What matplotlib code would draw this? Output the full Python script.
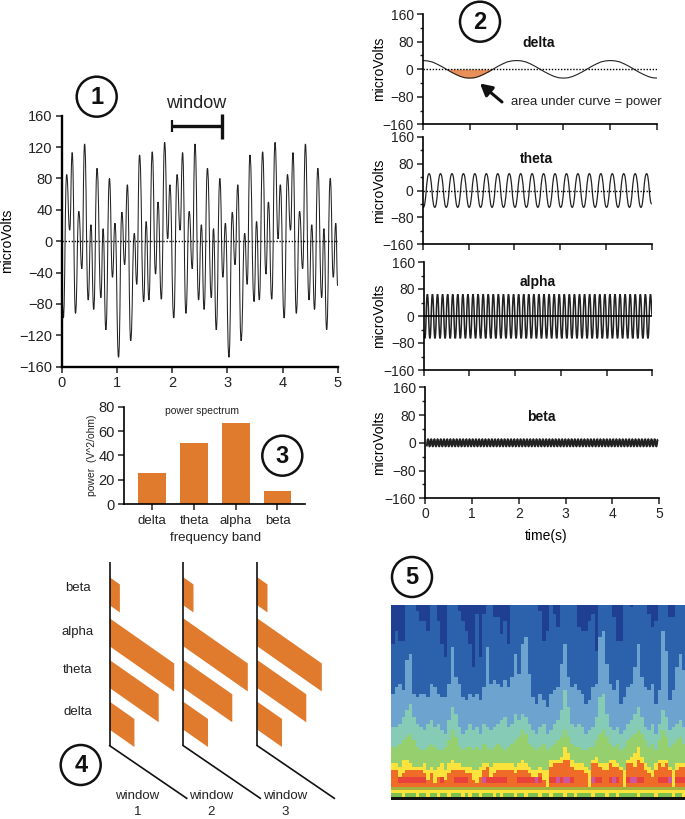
import numpy as np
import matplotlib
matplotlib.use("Agg")
import matplotlib.pyplot as plt
from matplotlib.colors import ListedColormap
from matplotlib.patches import Circle, PathPatch, Polygon
from matplotlib.path import Path

plt.rcParams["font.family"] = ["Liberation Sans", "DejaVu Sans"]
plt.rcParams["axes.unicode_minus"] = True

W, H = 685, 819
ORANGE = "#E07B2E"
DARK = "#222222"

# panel 1: turning points of the summed signal
eeg_t = [0.0, 0.03, 0.09, 0.145, 0.19, 0.25, 0.31, 0.365, 0.415, 0.48, 0.53, 0.58, 0.64, 0.71, 0.75, 0.80, 0.865, 0.92, 0.965,
         1.03, 1.09, 1.14, 1.19, 1.25, 1.315, 1.36, 1.41, 1.485, 1.53, 1.58, 1.64, 1.70, 1.745, 1.805, 1.865, 1.92, 1.96,
         2.03, 2.09, 2.145, 2.19, 2.25, 2.31, 2.365, 2.415, 2.48, 2.53, 2.58, 2.64, 2.71, 2.75, 2.80, 2.865, 2.92, 2.965,
         3.03, 3.09, 3.14, 3.19, 3.25, 3.315, 3.36, 3.41, 3.485, 3.53, 3.58, 3.64, 3.70, 3.745, 3.805, 3.865, 3.92, 3.96,
         4.03, 4.09, 4.145, 4.19, 4.25, 4.31, 4.365, 4.415, 4.48, 4.53, 4.58, 4.64, 4.71, 4.75, 4.80, 4.865, 4.92, 4.965, 5.0]
eeg_v = [-60, -98, 85, 14, 113, -92, 38, -35, 124, -75, 21, -87, 93, -72, 16, -113, 80, -46, 23,
         -148, 37, -30, 72, -127, 10, -55, 110, -77, 25, -75, 114, -42, 50, -74, 126, 3, 72,
         -98, 85, 14, 113, -92, 38, -35, 124, -75, 21, -87, 93, -72, 16, -113, 80, -46, 23,
         -148, 37, -30, 72, -127, 10, -55, 110, -77, 25, -75, 114, -42, 50, -74, 126, 3, 72,
         -98, 85, 14, 113, -92, 38, -35, 124, -75, 21, -87, 93, -72, 16, -113, 80, -46, 23, -57]

# panel 2: delta read every 0.1 s
delta_t = np.arange(51) / 10
delta_v = [25, 24, 21, 15, 8, 0, -8, -15, -21, -25, -26, -25, -21, -15, -8, 0, 8, 15, 21, 24,
           25, 24, 21, 15, 8, 0, -8, -15, -21, -25, -26, -25, -21, -15, -8, 0, 8, 15, 21, 24,
           25, 24, 21, 15, 8, 0, -8, -15, -21, -25, -26]
# the faster bands keep a flat amplitude, so only the turning points are listed
theta_v = [-45] + [-50, 50] * 20 + [-40]
alpha_v = [-50] + [-66, 64] * 45 + [0]
beta_v = [-10, 10] * 73
theta_span = (0.014, 4.889)
alpha_span = (0.025, 4.96)
beta_span = (0.03, 4.97)

# panel 3
bands = ["delta", "theta", "alpha", "beta"]
power = [25.5, 50.5, 66.5, 10.5]

# panel 5: row where each colour layer ends, one entry per time column
navy_end = [12, 8, 11, 11, 0, 0, 0, 2, 5, 5,
            8, 0, 0, 5, 12, 16, 0, 0, 0, 2,
            5, 8, 12, 19, 3, 16, 3, 0, 0, 4,
            4, 9, 5, 12, 0, 0, 0, 0, 0, 0,
            0, 0, 2, 11, 8, 0, 3, 7, 0, 0,
            0, 0, 0, 7, 8, 8, 5, 3, 14, 0,
            0, 0, 0, 4, 11, 11, 0, 0, 1, 0,
            0, 0, 0, 3, 7, 5, 0, 0, 0, 4,
            4, 0, 0, 0]
blue_end = [27, 25, 24, 26, 17, 15, 27, 28, 27, 27,
            28, 24, 25, 27, 28, 28, 24, 13, 22, 24,
            28, 29, 27, 28, 27, 29, 25, 13, 24, 23,
            24, 25, 23, 25, 22, 15, 21, 12, 10, 21,
            28, 30, 27, 29, 31, 27, 26, 25, 18, 12,
            22, 25, 24, 26, 27, 30, 29, 25, 24, 10,
            8, 18, 24, 26, 23, 30, 28, 25, 24, 19,
            12, 22, 25, 26, 24, 30, 26, 8, 14, 29,
            26, 19, 15, 20]
light_end = [37, 37, 36, 34, 32, 30, 34, 36, 37, 38,
             36, 35, 37, 36, 38, 39, 35, 31, 33, 37,
             39, 38, 36, 38, 37, 39, 36, 37, 38, 37,
             36, 35, 34, 37, 36, 33, 35, 33, 34, 36,
             38, 39, 37, 36, 39, 38, 36, 35, 32, 26,
             31, 36, 37, 36, 37, 39, 38, 37, 34, 28,
             27, 33, 37, 38, 37, 39, 38, 36, 35, 33,
             31, 34, 37, 38, 36, 39, 36, 32, 34, 38,
             37, 36, 35, 37]
teal_end = [43, 43, 42, 41, 40, 39, 41, 43, 44, 44,
            43, 42, 43, 44, 44, 43, 41, 38, 40, 43,
            44, 43, 43, 44, 43, 44, 42, 43, 44, 43,
            42, 43, 44, 43, 42, 41, 40, 38, 39, 42,
            43, 44, 43, 42, 44, 43, 42, 41, 40, 38,
            40, 42, 43, 43, 44, 44, 43, 43, 41, 39,
            38, 40, 42, 43, 42, 44, 43, 41, 40, 39,
            38, 39, 41, 43, 42, 44, 41, 38, 40, 43,
            42, 41, 40, 42]
green_end = [48, 48, 49, 47, 47, 48, 49, 49, 49, 48,
             50, 49, 50, 49, 48, 50, 48, 47, 48, 48,
             49, 49, 49, 50, 50, 49, 48, 48, 49, 48,
             48, 48, 48, 48, 48, 49, 48, 47, 48, 49,
             50, 50, 49, 50, 50, 47, 47, 47, 46, 43,
             45, 47, 48, 48, 48, 49, 50, 47, 46, 48,
             48, 48, 47, 47, 48, 49, 50, 47, 46, 45,
             43, 46, 48, 49, 50, 48, 47, 47, 47, 49,
             50, 48, 48, 48]
yellow_end = [50, 50, 52, 51, 50, 50, 50, 50, 50, 51,
              53, 51, 54, 52, 52, 53, 51, 50, 50, 50,
              50, 51, 51, 53, 54, 52, 50, 49, 52, 51,
              50, 50, 50, 50, 50, 51, 50, 50, 50, 51,
              52, 52, 51, 53, 56, 49, 48, 48, 48, 47,
              47, 49, 50, 50, 50, 51, 56, 48, 48, 49,
              50, 50, 48, 49, 49, 50, 56, 48, 48, 49,
              47, 48, 50, 51, 52, 50, 48, 49, 48, 50,
              56, 50, 49, 49]
red_cols = [2, 3, 4, 5, 6, 7, 8, 9, 14, 15, 18, 19, 20, 21, 26, 27, 28, 29, 30, 31, 32, 36, 37, 38, 39, 40, 41, 42,
            45, 46, 47, 48, 49, 50, 51, 57, 58, 59, 62, 63, 64, 67, 68, 69, 70, 71, 76, 77, 78, 81, 82, 83]
pink_cols = [26, 41, 47, 49, 50, 57, 63, 68, 69, 79]
green_foot = [1, 1, 1, 0, 1, 1, 1, 0, 1, 1, 0, 1, 1, 0, 1, 1, 0, 1, 1, 1, 0, 1, 0, 1, 1, 0, 1, 1, 1, 0,
              1, 0, 1, 1, 1, 0, 1, 1, 0, 1, 1, 1, 0, 1, 1, 0, 1, 1, 1, 0, 1, 1, 0, 1, 1, 1, 1, 0, 1, 1,
              1, 0, 1, 1, 0, 1, 1, 1, 1, 1, 0, 1, 1, 1, 1, 0, 1, 1, 1, 1, 0, 1, 1, 0]
heat_colors = ["#1F3F93", "#2C62AB", "#6CA4CF", "#86CBB6", "#96D06E", "#FBE33C", "#EE6B28", "#E8403A",
               "#D0559F", "#A6B03C", "#7CC04F", "#111111"]


def px_axes(x0, y0, x1, y1):
    return fig.add_axes([x0 / W, 1 - y1 / H, (x1 - x0) / W, (y1 - y0) / H])


def wave(ax, t, v, lw=0.75):
    # smooth line through turning points, flat at every turning point
    verts = [(t[0], v[0])]
    codes = [Path.MOVETO]
    for i in range(len(t) - 1):
        mid = (t[i] + t[i + 1]) / 2
        verts += [(mid, v[i]), (mid, v[i + 1]), (t[i + 1], v[i + 1])]
        codes += [Path.CURVE4] * 3
    ax.add_patch(PathPatch(Path(verts, codes), fill=False, edgecolor=DARK, lw=lw))


def style_axes(ax, lw, fs):
    for s in ["top", "right"]:
        ax.spines[s].set_visible(False)
    for s in ["left", "bottom"]:
        ax.spines[s].set_linewidth(lw)
    ax.tick_params(which="major", length=4, width=1.1, labelsize=fs, pad=2.5, colors="#222222")
    ax.tick_params(which="minor", length=2.2, width=1.0, colors="#222222")
    ax.patch.set_alpha(0)


fig = plt.figure(figsize=(W / 100, H / 100), dpi=100)

# panel 1
ax1 = px_axes(61.7, 115.7, 337.7, 366.7)
wave(ax1, eeg_t, eeg_v)
ax1.axhline(0, color="black", lw=1, ls=(0, (1, 1.2)), zorder=3)
ax1.set_xlim(0, 5)
ax1.set_ylim(-160, 160)
ax1.set_yticks(range(-160, 161, 40))
ax1.set_xticks(range(6))
style_axes(ax1, 1.7, 10.5)
ax1.set_ylabel("microVolts", fontsize=10)
ax1.yaxis.set_label_coords((14 - 61.7) / 276, 0.5)

# panel 2
band_boxes = {
    "delta": (422.7, 14, 657.3, 124.3),
    "theta": (422.7, 136.7, 651.7, 244.3),
    "alpha": (423.7, 262, 652.3, 370),
    "beta": (425, 387.3, 659.3, 498.3),
}
band_axes = {}
for name, box in band_boxes.items():
    ax = px_axes(*box)
    band_axes[name] = ax
    ax.set_xlim(0, 5)
    ax.set_ylim(-160, 160)
    ax.set_yticks(range(-160, 161, 80))
    ax.set_yticks(range(-120, 121, 80), minor=True)
    ax.set_xticks(range(6))
    style_axes(ax, 1.2, 10)
    if name != "beta":
        ax.tick_params(axis="x", labelbottom=False)
    ax.set_ylabel("microVolts", fontsize=10)
    ax.yaxis.set_label_coords((386 - box[0]) / (box[2] - box[0]), 0.5)

ax = band_axes["delta"]
ax.plot(delta_t, delta_v, color=DARK, lw=0.8)
ax.fill_between(delta_t, delta_v, 0, where=(delta_t >= 0.5) & (delta_t <= 1.5), color="#E98F5A", lw=0)
ax.axhline(0, color="black", lw=1, ls=(0, (1, 1.2)))

ax = band_axes["theta"]
wave(ax, [0.0] + list(np.linspace(*theta_span, 40)) + [5.0], theta_v, lw=0.9)
ax.axhline(0, color="black", lw=1, ls=(0, (1, 1.2)))

ax = band_axes["alpha"]
wave(ax, [0.0] + list(np.linspace(*alpha_span, 90)) + [5.0], alpha_v, lw=1.1)
ax.axhline(0, color="black", lw=1.2)

ax = band_axes["beta"]
wave(ax, list(np.linspace(*beta_span, 146)), beta_v, lw=1.4)
ax.set_xlabel("time(s)", fontsize=10)
ax.xaxis.set_label_coords((546 - 425) / 234.3, -0.28)

# panel 3
ax3 = px_axes(124, 406.7, 305, 504)
ax3.bar(range(4), power, width=0.67, color=ORANGE)
ax3.set_xlim(-0.68, 3.66)
ax3.set_ylim(0, 80)
ax3.set_yticks(range(0, 81, 20))
ax3.set_xticks(range(4))
ax3.set_xticklabels(bands)
style_axes(ax3, 1.2, 10.5)
ax3.tick_params(axis="x", labelsize=9.5, pad=4)

# panel 5
n_rows = 59
grid = np.zeros((n_rows, len(navy_end)), dtype=int)
for c in range(len(navy_end)):
    grid[navy_end[c]:blue_end[c], c] = 1
    grid[blue_end[c]:light_end[c], c] = 2
    grid[light_end[c]:teal_end[c], c] = 3
    grid[teal_end[c]:green_end[c], c] = 4
    grid[green_end[c]:yellow_end[c], c] = 5
    grid[yellow_end[c]:55, c] = 6
    grid[55, c] = 9
    grid[56, c] = 5
    grid[57, c] = 10 if green_foot[c] else 5
    grid[58, c] = 11
for c in red_cols:
    if yellow_end[c] < 53:
        grid[52:54, c] = 7
for c in pink_cols:
    if yellow_end[c] < 53:
        grid[52:54, c] = 8
ax5 = px_axes(390.7, 604.7, 685, 800)
ax5.imshow(grid, cmap=ListedColormap(heat_colors), vmin=0, vmax=len(heat_colors) - 1, aspect="auto",
           interpolation="nearest")
ax5.axis("off")

# everything placed by pixel: labels, circled numbers, panel 4
ov = fig.add_axes([0, 0, 1, 1], zorder=10)
ov.set_xlim(0, W)
ov.set_ylim(H, 0)
ov.axis("off")

for num, cx, cy in [("1", 96.7, 96.7), ("2", 480, 21.7), ("3", 282.3, 455.7), ("4", 80.7, 765), ("5", 412, 577)]:
    ov.add_patch(Circle((cx, cy), 20, fill=False, edgecolor="#111111", lw=1.8))
    ov.text(cx, cy + 0.5, num, fontsize=17, fontweight="bold", ha="center", va="center", color="#111111")

# window marker
ov.text(196, 104, "window", fontsize=13, ha="center", va="center", color=DARK)
ov.plot([172.3, 221.7], [126, 126], color="#111111", lw=2.4, solid_capstyle="butt")
ov.plot([172.3, 172.3], [120, 132], color="#111111", lw=1.6, solid_capstyle="butt")
ov.plot([221.7, 221.7], [114, 139], color="#111111", lw=2.4, solid_capstyle="butt")

# delta note
ov.annotate("", xy=(480, 83.5), xytext=(502, 102),
            arrowprops=dict(arrowstyle="-|>,head_width=0.38,head_length=0.7", color="#111111", lw=2.2, shrinkA=0, shrinkB=0))
ov.text(510.7, 102, "area under curve = power", fontsize=9.5, ha="left", va="center", color=DARK)

for name, cx, cy in [("delta", 539, 43), ("theta", 536, 159), ("alpha", 537.7, 282), ("beta", 541.7, 416.7)]:
    ov.text(cx, cy, name, fontsize=10, fontweight="bold", ha="center", va="center", color="#111111")

# panel 3 labels
ov.text(201.7, 411, "power spectrum", fontsize=7.5, ha="center", va="center", color=DARK)
ov.text(91.7, 455, "power  (V^2/ohm)", fontsize=7.5, rotation=90, ha="center", va="center", color=DARK)
ov.text(216, 537.7, "frequency band", fontsize=9.5, ha="center", va="center", color=DARK)

# panel 4: each band is sheared back by its power, one copy per window
px_per_power = 0.97
slope = 0.7
band_top = {"beta": 577.3, "alpha": 618.3, "theta": 660, "delta": 701.7}
band_label_y = {"beta": 587.7, "alpha": 631.7, "theta": 670, "delta": 712}
band_h = 28
for w, x0 in enumerate([109.7, 183.3, 257.3]):
    for b, p in zip(bands, power):
        y0 = band_top[b]
        dx = p * px_per_power
        ov.add_patch(Polygon([(x0, y0), (x0 + dx, y0 + dx * slope), (x0 + dx, y0 + dx * slope + band_h), (x0, y0 + band_h)],
                             closed=True, facecolor=ORANGE, edgecolor="none"))
    ov.plot([x0, x0], [562.3, 745.7], color="#111111", lw=1.2, solid_capstyle="butt")
    ov.plot([x0, x0 + 77], [745.7, 798.3], color="#111111", lw=1.2)
    ov.text(x0 + 27.6, 796, "window", fontsize=9.5, ha="center", va="center", color=DARK)
    ov.text(x0 + 27.6, 811.7, str(w + 1), fontsize=9.5, ha="center", va="center", color=DARK)
for b in bands:
    ov.text(78, band_label_y[b], b, fontsize=9.5, ha="center", va="center", color=DARK)

fig.savefig("out.png", dpi=100)
